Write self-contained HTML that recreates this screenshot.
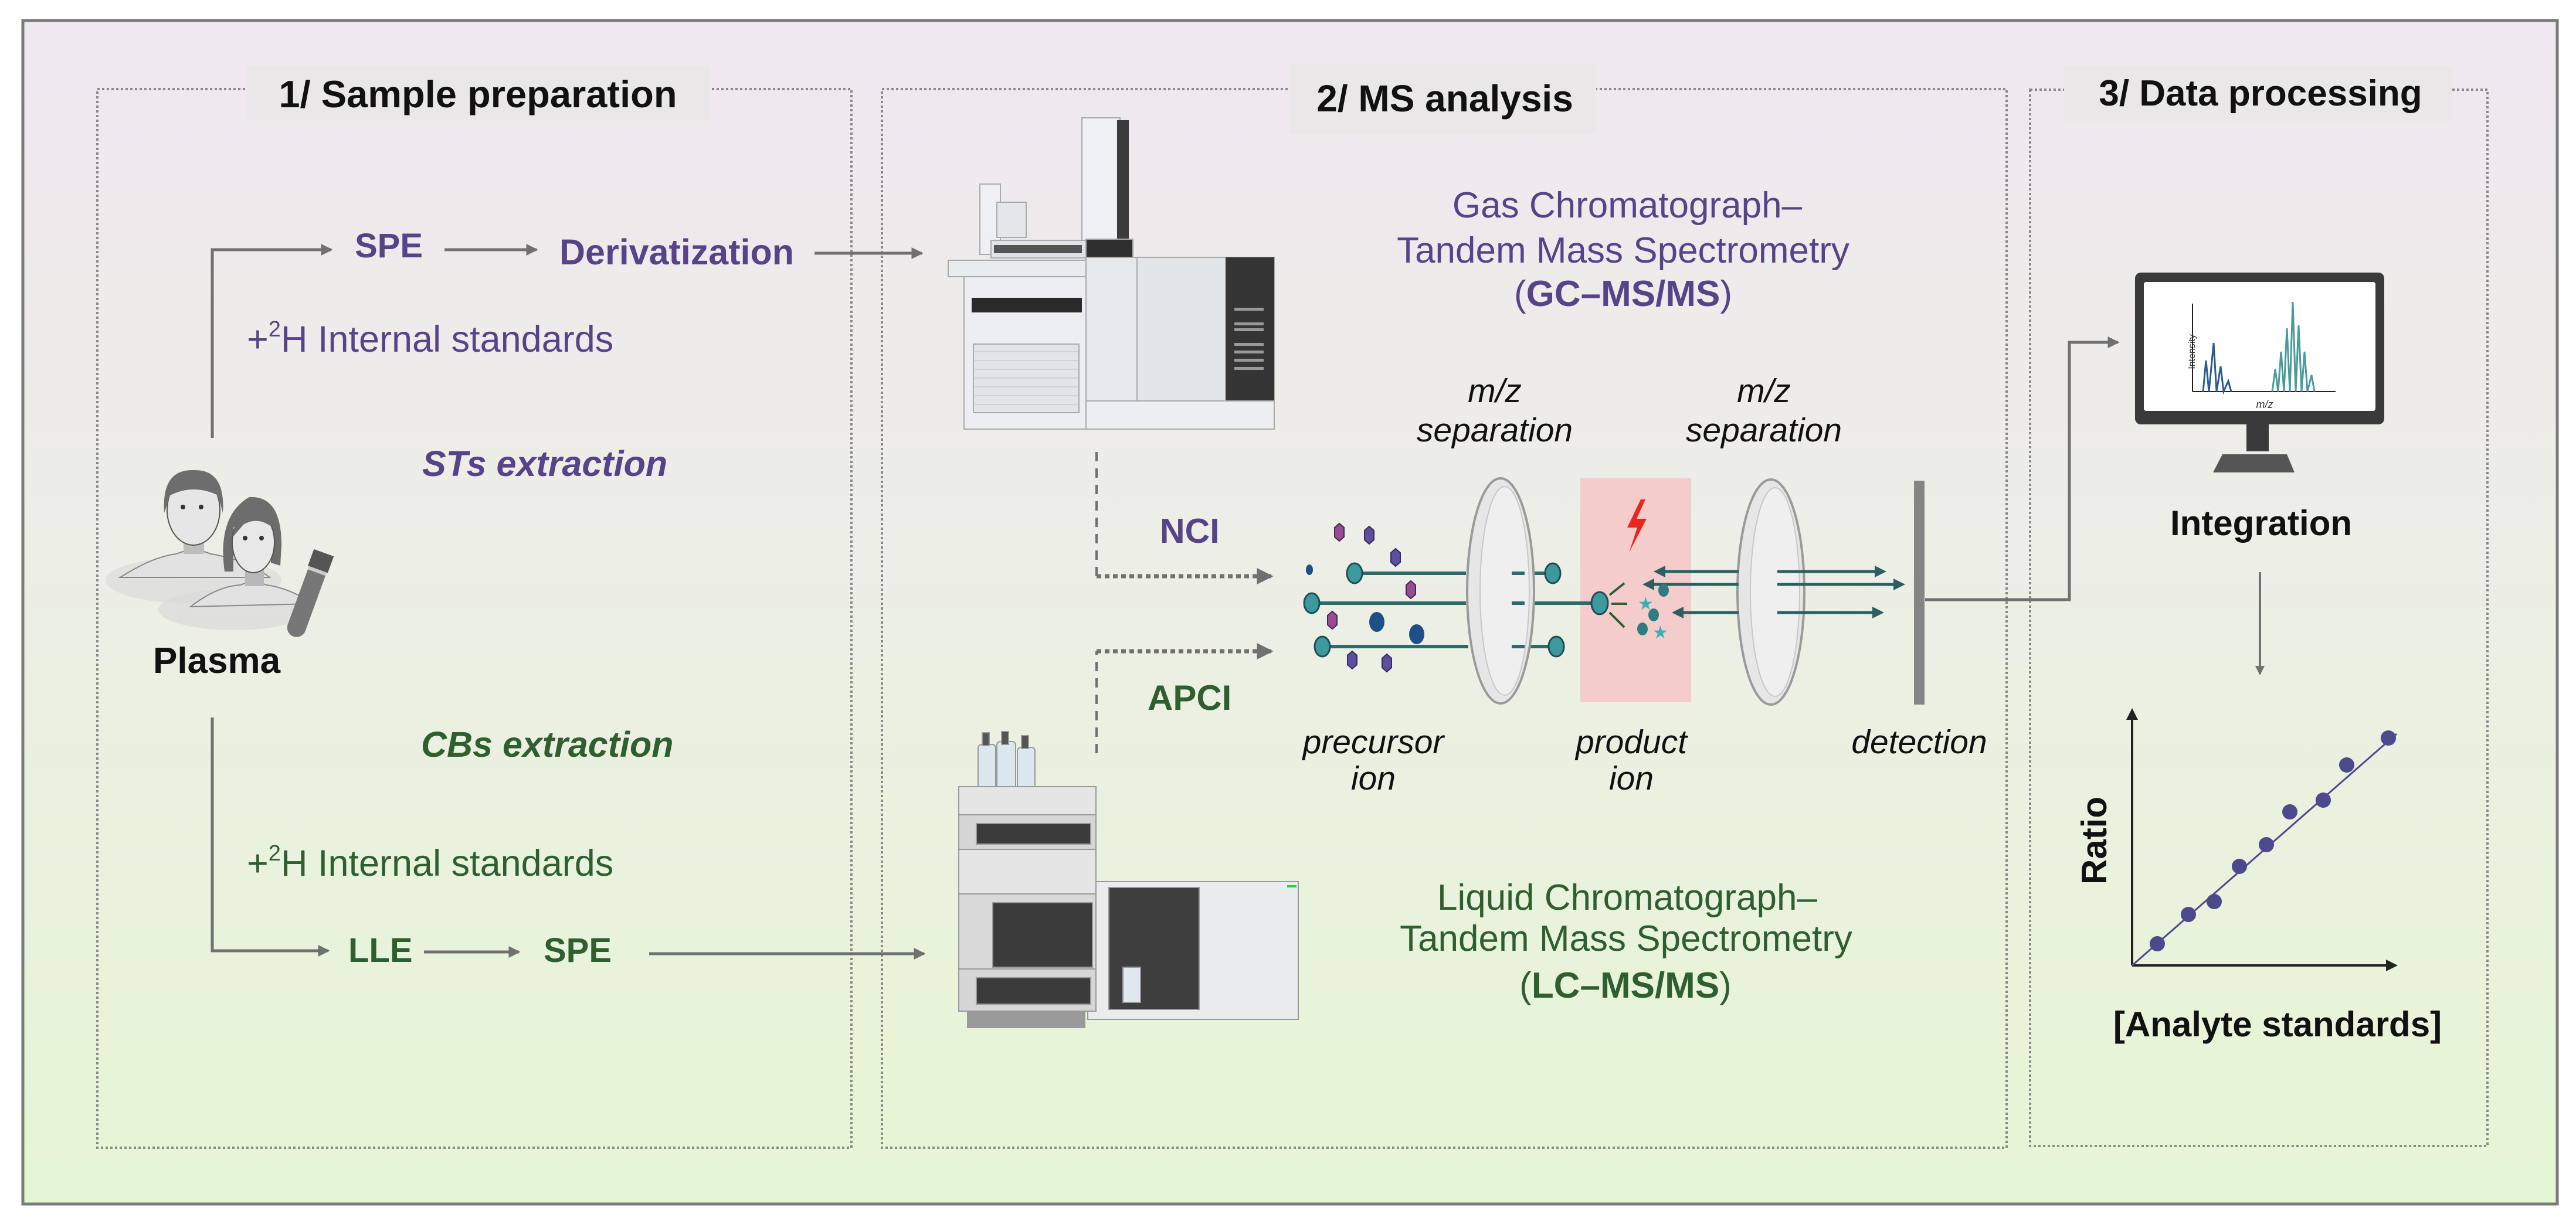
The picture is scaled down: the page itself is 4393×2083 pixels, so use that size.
<!DOCTYPE html>
<html><head><meta charset="utf-8"><style>
html,body{margin:0;padding:0;background:#fff;}
svg{display:block;}
text{font-family:"Liberation Sans",Arial,sans-serif;}
</style></head><body>
<svg width="4393" height="2083" viewBox="0 0 4393 2083" xmlns="http://www.w3.org/2000/svg">
<defs>
<linearGradient id="bg" x1="0" y1="0" x2="0" y2="1">
<stop offset="0" stop-color="#efe8f0"/><stop offset="0.45" stop-color="#edeee6"/><stop offset="1" stop-color="#e5f6d4"/>
</linearGradient>
<marker id="ah" markerWidth="4" markerHeight="4" refX="3.5" refY="2" orient="auto" markerUnits="strokeWidth"><path d="M0,0 L4,2 L0,4 z" fill="#707070"/></marker>
<marker id="ahk" markerWidth="5" markerHeight="5" refX="4" refY="2.5" orient="auto" markerUnits="strokeWidth"><path d="M0,0 L5,2.5 L0,5 z" fill="#222"/></marker>
<marker id="ahs" markerWidth="4" markerHeight="4" refX="3" refY="2" orient="auto" markerUnits="strokeWidth"><path d="M0,0 L4,2 L0,4 z" fill="#2c5f60"/></marker>
</defs>
<rect x="39" y="35" width="4322" height="2019" fill="url(#bg)" stroke="#7a7a7a" stroke-width="5"/>

<g fill="none" stroke="#8a8a8a" stroke-width="4" stroke-dasharray="4 4">
<rect x="166" y="152" width="1286" height="1806"/>
<rect x="1504" y="152" width="1918" height="1806"/>
<rect x="3462" y="153" width="780" height="1802"/>
</g>
<rect x="421" y="112" width="789" height="92" fill="#e9e7e8"/>
<rect x="2200" y="110" width="522" height="118" fill="#e9e7e8"/>
<rect x="3520" y="113" width="662" height="93" fill="#e9e7e8"/>
<text x="815" y="183" font-size="65" font-weight="bold" text-anchor="middle" fill="#111">1/ Sample preparation</text>
<text x="2464" y="190" font-size="64" font-weight="bold" text-anchor="middle" fill="#111">2/ MS analysis</text>
<text x="3855" y="180" font-size="62" font-weight="bold" text-anchor="middle" fill="#111">3/ Data processing</text>

<g stroke="#707070" stroke-width="5" fill="none">
<path d="M362,747 L362,426 L565,426" marker-end="url(#ah)"/>
<path d="M758,426 L915,426" marker-end="url(#ah)"/>
<path d="M1389,432 L1572,432" marker-end="url(#ah)"/>
<path d="M362,1224 L362,1622 L560,1622" marker-end="url(#ah)"/>
<path d="M723,1624 L885,1624" marker-end="url(#ah)"/>
<path d="M1107,1627 L1576,1627" marker-end="url(#ah)"/>
</g>
<g fill="#574388">
<text x="605" y="439" font-size="58" font-weight="bold">SPE</text>
<text x="954" y="451" font-size="61" font-weight="bold">Derivatization</text>
<text x="421" y="600" font-size="63">+<tspan font-size="38" dy="-26">2</tspan><tspan dy="26">H Internal standards</tspan></text>
<text x="720" y="812" font-size="61" font-weight="bold" font-style="italic">STs extraction</text>
</g>
<g fill="#2f5e2f">
<text x="718" y="1291" font-size="61" font-weight="bold" font-style="italic">CBs extraction</text>
<text x="421" y="1494" font-size="63">+<tspan font-size="38" dy="-26">2</tspan><tspan dy="26">H Internal standards</tspan></text>
<text x="594" y="1641" font-size="58" font-weight="bold">LLE</text>
<text x="927" y="1641" font-size="58" font-weight="bold">SPE</text>
</g>
<text x="261" y="1148" font-size="62" font-weight="bold" fill="#111">Plasma</text>

<g>
<ellipse cx="330" cy="990" rx="150" ry="40" fill="#dcdcdc" opacity="0.7"/>
<path d="M205,985 Q260,950 300,945 L330,935 L360,945 Q420,955 460,985 Z" fill="#e2e2e2" stroke="#888" stroke-width="2"/>
<rect x="313" y="905" width="35" height="40" fill="#bdbdbd"/>
<ellipse cx="330" cy="870" rx="45" ry="60" fill="#e6e6e6" stroke="#555" stroke-width="2"/>
<path d="M280,875 Q275,800 330,802 Q385,800 380,875 L372,845 Q330,825 290,845 Z" fill="#6d6d6d"/>
<circle cx="312" cy="865" r="4" fill="#333"/><circle cx="343" cy="865" r="4" fill="#333"/>
<ellipse cx="400" cy="1040" rx="130" ry="35" fill="#dadada" opacity="0.7"/>
<path d="M325,1035 Q370,1000 410,998 L430,990 L455,998 Q500,1005 530,1030 Z" fill="#e2e2e2" stroke="#888" stroke-width="2"/>
<rect x="418" y="970" width="32" height="30" fill="#b8b8b8"/>
<path d="M383,975 Q370,880 425,848 Q480,845 480,930 L478,965 L462,960 L462,880 Q430,870 398,900 L398,975 Z" fill="#6d6d6d"/>
<ellipse cx="432" cy="925" rx="36" ry="52" fill="#e8e8e8" stroke="#555" stroke-width="2"/>
<path d="M398,915 Q400,860 440,858 Q470,862 465,900 Q440,880 415,895 Z" fill="#6d6d6d"/>
<circle cx="418" cy="918" r="4" fill="#333"/><circle cx="446" cy="918" r="4" fill="#333"/>
<g transform="rotate(20 525 1015)"><rect x="510" y="945" width="32" height="145" rx="16" fill="#777"/><rect x="508" y="938" width="36" height="30" fill="#555"/><rect x="510" y="968" width="32" height="6" fill="#ccc"/></g>
</g>

<g stroke="#aaa" stroke-width="2">
<rect x="1671" y="314" width="35" height="120" fill="#eef0f3"/>
<rect x="1700" y="345" width="50" height="60" fill="#e4e7ea"/>
<rect x="1845" y="201" width="65" height="210" fill="#eef0f3"/>
<rect x="1905" y="205" width="20" height="205" fill="#3b3b3b" stroke="none"/>
<rect x="1852" y="408" width="80" height="32" fill="#2f2f2f"/>
<rect x="1690" y="410" width="162" height="30" fill="#dfe2e6"/>
<rect x="1695" y="418" width="150" height="14" fill="#555" stroke="none"/>
<rect x="1617" y="444" width="322" height="28" fill="#e9ecef"/>
<rect x="1644" y="472" width="208" height="260" fill="#eceef1"/>
<rect x="1657" y="508" width="188" height="25" fill="#2a2a2a" stroke="none"/>
<rect x="1660" y="587" width="180" height="117" fill="#e2e4e7"/>
<rect x="1852" y="439" width="87" height="245" fill="#e6e9ec"/>
<rect x="1939" y="439" width="234" height="245" fill="#e3e6e9"/>
<rect x="2090" y="439" width="83" height="245" fill="#353535" stroke="none"/>
<rect x="1852" y="684" width="321" height="48" fill="#eceef1"/>
</g>
<g stroke="#cfd2d6" stroke-width="2">
<line x1="1662" y1="600" x2="1838" y2="600"/><line x1="1662" y1="615" x2="1838" y2="615"/><line x1="1662" y1="630" x2="1838" y2="630"/><line x1="1662" y1="645" x2="1838" y2="645"/><line x1="1662" y1="660" x2="1838" y2="660"/><line x1="1662" y1="675" x2="1838" y2="675"/><line x1="1662" y1="690" x2="1838" y2="690"/>
</g>
<g fill="#999"><rect x="2105" y="525" width="50" height="5"/><rect x="2105" y="550" width="50" height="5"/><rect x="2105" y="560" width="50" height="5"/><rect x="2105" y="585" width="50" height="5"/><rect x="2105" y="598" width="50" height="5"/><rect x="2105" y="612" width="50" height="5"/><rect x="2105" y="626" width="50" height="5"/></g>

<g fill="#574388" text-anchor="middle">
<text x="2775" y="371" font-size="62">Gas Chromatograph–</text>
<text x="2768" y="448" font-size="62">Tandem Mass Spectrometry</text>
<text x="2768" y="522" font-size="62"><tspan>(</tspan><tspan font-weight="bold">GC–MS/MS</tspan><tspan>)</tspan></text>
</g>
<g fill="#2f5e2f" text-anchor="middle">
<text x="2775" y="1552" font-size="62">Liquid Chromatograph–</text>
<text x="2773" y="1622" font-size="62">Tandem Mass Spectrometry</text>
<text x="2772" y="1702" font-size="62"><tspan>(</tspan><tspan font-weight="bold">LC–MS/MS</tspan><tspan>)</tspan></text>
</g>

<g stroke="#999" stroke-width="2">
<rect x="1668" y="1270" width="30" height="75" rx="6" fill="#dce8f0"/>
<rect x="1700" y="1265" width="32" height="80" rx="6" fill="#dce8f0"/>
<rect x="1735" y="1275" width="30" height="70" rx="6" fill="#dce8f0"/>
<rect x="1675" y="1250" width="12" height="22" fill="#555"/><rect x="1708" y="1248" width="12" height="22" fill="#555"/><rect x="1742" y="1255" width="12" height="22" fill="#555"/>
<rect x="1855" y="1504" width="359" height="235" fill="#eaeced"/>
<rect x="1891" y="1514" width="154" height="208" fill="#3e3e3e"/>
<rect x="1915" y="1650" width="30" height="60" fill="#dfe8f0"/>
<rect x="1635" y="1342" width="234" height="48" fill="#e5e5e5"/>
<rect x="1635" y="1390" width="234" height="59" fill="#d6d6d6"/>
<rect x="1665" y="1405" width="195" height="35" fill="#3b3b3b"/>
<rect x="1635" y="1449" width="234" height="76" fill="#e5e5e5"/>
<rect x="1635" y="1525" width="234" height="128" fill="#d9d9d9"/>
<rect x="1693" y="1540" width="170" height="110" fill="#3b3b3b"/>
<rect x="1635" y="1653" width="234" height="72" fill="#d6d6d6"/>
<rect x="1665" y="1668" width="195" height="45" fill="#3b3b3b"/>
<rect x="1650" y="1725" width="200" height="28" fill="#9a9a9a"/>
</g>
<rect x="2195" y="1510" width="16" height="4" fill="#2ecc40"/>

<g stroke="#707070" stroke-width="4" fill="none">
<path d="M1870,771 L1870,983" stroke-dasharray="16 12"/>
<path d="M1870,983 L2168,983" stroke-dasharray="8 6" stroke-width="7" marker-end="url(#ah)"/>
<path d="M1870,1285 L1870,1111" stroke-dasharray="16 12"/>
<path d="M1870,1111 L2168,1111" stroke-dasharray="8 6" stroke-width="7" marker-end="url(#ah)"/>
</g>
<text x="1978" y="926" font-size="59" font-weight="bold" fill="#574388">NCI</text>
<text x="1957" y="1211" font-size="60" font-weight="bold" fill="#2f5e2f">APCI</text>

<rect x="2695" y="816" width="189" height="382" fill="#f4cccc"/>
<path d="M2798,852 L2775,900 L2792,900 L2778,943 L2808,885 L2791,885 L2806,852 Z" fill="#e8281e"/>
<g stroke="#2c6a6c" stroke-width="6">
<line x1="2310" y1="978" x2="2500" y2="978"/><line x1="2578" y1="978" x2="2648" y2="978"/>
<line x1="2237" y1="1029" x2="2500" y2="1029"/><line x1="2578" y1="1029" x2="2728" y2="1029"/>
<line x1="2255" y1="1103" x2="2504" y2="1103"/><line x1="2578" y1="1103" x2="2654" y2="1103"/>
</g>
<ellipse cx="2559" cy="1008" rx="57" ry="192" fill="#e6e6e6" stroke="#9a9a9a" stroke-width="4"/>
<ellipse cx="2566" cy="1008" rx="42" ry="178" fill="#efefef" stroke="#c8c8c8" stroke-width="2"/>
<ellipse cx="3020" cy="1010" rx="57" ry="192" fill="#e6e6e6" stroke="#9a9a9a" stroke-width="4"/>
<ellipse cx="3027" cy="1010" rx="42" ry="178" fill="#efefef" stroke="#c8c8c8" stroke-width="2"/>
<g stroke="#2c6a6c" stroke-width="6">
<line x1="2578" y1="978" x2="2600" y2="978"/><line x1="2578" y1="1029" x2="2600" y2="1029"/><line x1="2578" y1="1103" x2="2600" y2="1103"/>
</g>
<g stroke="#2c5f60" stroke-width="5" fill="none">
<path d="M2965,975 L2825,975" marker-end="url(#ahs)"/><path d="M3031,975 L3212,975" marker-end="url(#ahs)"/>
<path d="M2965,997 L2806,997" marker-end="url(#ahs)"/><path d="M3031,997 L3244,997" marker-end="url(#ahs)"/>
<path d="M2965,1045 L2856,1045" marker-end="url(#ahs)"/><path d="M3031,1045 L3208,1045" marker-end="url(#ahs)"/>
</g>
<g stroke="#2f5e2f" stroke-width="4"><line x1="2745" y1="1015" x2="2770" y2="995"/><line x1="2748" y1="1030" x2="2775" y2="1030"/><line x1="2745" y1="1045" x2="2770" y2="1070"/></g>
<g fill="#3d9a9c" stroke="#1c4e56" stroke-width="3">
<ellipse cx="2310" cy="978" rx="13" ry="17"/><ellipse cx="2237" cy="1029" rx="13" ry="17"/><ellipse cx="2255" cy="1103" rx="13" ry="17"/>
<ellipse cx="2648" cy="978" rx="13" ry="17"/><ellipse cx="2654" cy="1103" rx="13" ry="17"/><ellipse cx="2728" cy="1029" rx="14" ry="19"/>
</g>
<g fill="#2d7d80"><ellipse cx="2837" cy="1007" rx="9" ry="11"/><ellipse cx="2820" cy="1049" rx="9" ry="11"/><ellipse cx="2801" cy="1073" rx="9" ry="11"/></g>
<g fill="#3ab0b8" font-size="30"><text x="2793" y="1040">★</text><text x="2818" y="1089">★</text></g>
<g fill="#1e4f86"><ellipse cx="2233" cy="972" rx="6" ry="9"/><ellipse cx="2348" cy="1061" rx="13" ry="17"/><ellipse cx="2416" cy="1082" rx="13" ry="17"/></g>
<g stroke="#3a2a5a" stroke-width="2">
<polygon points="2284,893 2292,900 2292,916 2284,923 2276,916 2276,900" fill="#9b4a94"/>
<polygon points="2335,898 2343,905 2343,921 2335,928 2327,921 2327,905" fill="#5c4fa0"/>
<polygon points="2380,936 2388,943 2388,959 2380,966 2372,959 2372,943" fill="#5c4fa0"/>
<polygon points="2406,991 2414,998 2414,1014 2406,1021 2398,1014 2398,998" fill="#9b4a94"/>
<polygon points="2272,1043 2280,1050 2280,1066 2272,1073 2264,1066 2264,1050" fill="#9b4a94"/>
<polygon points="2306,1111 2314,1118 2314,1134 2306,1141 2298,1134 2298,1118" fill="#5c4fa0"/>
<polygon points="2365,1116 2373,1123 2373,1139 2365,1146 2357,1139 2357,1123" fill="#5c4fa0"/>
</g>
<rect x="3264" y="820" width="18" height="382" fill="#858585"/>
<g fill="#111" font-style="italic" text-anchor="middle" font-size="57">
<text x="2549" y="686">m/z</text><text x="2549" y="753">separation</text>
<text x="3008" y="686">m/z</text><text x="3008" y="753">separation</text>
<text x="2342" y="1285">precursor</text><text x="2342" y="1347">ion</text>
<text x="2782" y="1285">product</text><text x="2782" y="1347">ion</text>
<text x="3273" y="1285">detection</text>
</g>
<path d="M3283,1023 L3529,1023 L3529,584 L3612,584" stroke="#707070" stroke-width="5" fill="none" marker-end="url(#ah)"/>

<rect x="3641" y="465" width="425" height="259" rx="10" fill="#3a3a3a"/>
<rect x="3656" y="481" width="395" height="220" rx="4" fill="#fff"/>
<rect x="3831" y="724" width="38" height="46" fill="#3a3a3a"/>
<path d="M3774,806 L3790,775 L3900,775 L3913,806 Z" fill="#555"/>
<line x1="3739" y1="518" x2="3739" y2="668" stroke="#222" stroke-width="2"/>
<line x1="3739" y1="668" x2="3983" y2="668" stroke="#222" stroke-width="2"/>
<g fill="none" stroke-width="3">
<path d="M3757,668 L3762,615 L3767,668 L3775,585 L3780,668 L3787,625 L3792,668 L3800,650 L3805,668" stroke="#2b5c8e"/>
<path d="M3875,668 L3880,630 L3885,668 L3890,600 L3895,668 L3900,560 L3905,668 L3910,515 L3915,668 L3920,555 L3925,668 L3930,600 L3935,668 L3942,640 L3947,668" stroke="#4a9a9c"/>
</g>
<text x="3728" y="615" font-size="16" fill="#333" transform="rotate(-90 3728 600)" text-anchor="middle">Intensity</text>
<text x="3862" y="696" font-size="18" font-style="italic" fill="#333" text-anchor="middle">m/z</text>
<text x="3856" y="913" font-size="60" font-weight="bold" text-anchor="middle" fill="#111">Integration</text>
<line x1="3854" y1="976" x2="3854" y2="1150" stroke="#707070" stroke-width="4" marker-end="url(#ah)"/>

<line x1="3636" y1="1647" x2="3636" y2="1212" stroke="#222" stroke-width="4" marker-end="url(#ahk)"/>
<line x1="3636" y1="1647" x2="4085" y2="1647" stroke="#222" stroke-width="4" marker-end="url(#ahk)"/>
<line x1="3636" y1="1647" x2="4087" y2="1252" stroke="#4b4a8c" stroke-width="3"/>
<g fill="#4b4a8c">
<circle cx="3679" cy="1610" r="13"/><circle cx="3732" cy="1560" r="13"/><circle cx="3776" cy="1538" r="13"/><circle cx="3819" cy="1478" r="13"/><circle cx="3865" cy="1441" r="13"/><circle cx="3905" cy="1385" r="13"/><circle cx="3962" cy="1365" r="13"/><circle cx="4002" cy="1305" r="13"/><circle cx="4073" cy="1259" r="13"/>
</g>
<text x="3592" y="1434" font-size="60" font-weight="bold" fill="#111" text-anchor="middle" transform="rotate(-90 3592 1434)">Ratio</text>
<text x="3884" y="1768" font-size="60" font-weight="bold" text-anchor="middle" fill="#111">[Analyte standards]</text>
</svg>
</body></html>
